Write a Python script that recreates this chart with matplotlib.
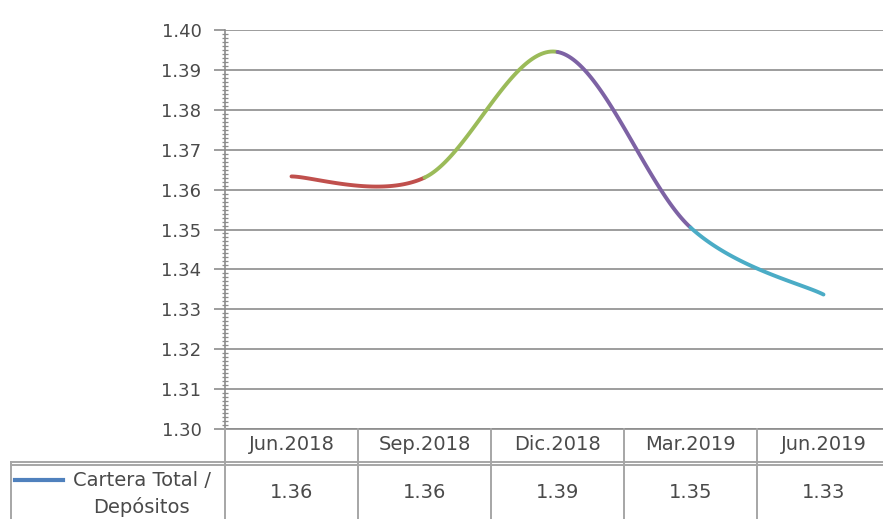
import numpy as np
import matplotlib
matplotlib.use("Agg")
import matplotlib.pyplot as plt
from matplotlib.ticker import MultipleLocator
from matplotlib.transforms import blended_transform_factory

plt.rcParams['font.family'] = ['DejaVu Sans']

categories = ["Jun.2018", "Sep.2018", "Dic.2018", "Mar.2019", "Jun.2019"]
values = [1.3633, 1.3630, 1.3945, 1.3505, 1.3337]
table_labels = ["1.36", "1.36", "1.39", "1.35", "1.33"]
series_name = ["Cartera Total /", "Depósitos"]
segment_colors = ["#C0504D", "#9BBB59", "#7D62A4", "#4BACC6"]
legend_color = "#4F81BD"
txt_color = "#4A4A4A"

W, H = 883, 519
fig = plt.figure(figsize=(W / 100, H / 100), dpi=100)
fig.patch.set_facecolor("white")

def fx(px):
    return px / W

def fy(py):
    return 1 - py / H

left, right, top, bottom = 225, 890, 30, 429
ax = fig.add_axes([fx(left), fy(bottom), fx(right - left), fy(top) - fy(bottom)])

n = len(values)
xs = np.arange(n, dtype=float)
ys = np.array(values)

# Excel-like smoothed line (Catmull-Rom Bezier), one colour per segment
t = np.linspace(0, 1, 60)
for i in range(n - 1):
    p0 = np.array([xs[i], ys[i]])
    p3 = np.array([xs[i + 1], ys[i + 1]])
    pm = np.array([xs[i - 1], ys[i - 1]]) if i > 0 else p0
    pp = np.array([xs[i + 2], ys[i + 2]]) if i + 2 < n else p3
    c1 = p0 + (p3 - pm) / 6
    c2 = p3 - (pp - p0) / 6
    pts = ((1 - t) ** 3)[:, None] * p0 + (3 * (1 - t) ** 2 * t)[:, None] * c1 \
        + (3 * (1 - t) * t ** 2)[:, None] * c2 + (t ** 3)[:, None] * p3
    ax.plot(pts[:, 0], pts[:, 1], color=segment_colors[i], lw=2.8,
            solid_capstyle="round", zorder=3)

ax.set_xlim(-0.5, n - 0.5)
ax.set_ylim(1.30, 1.40)
ax.yaxis.set_major_locator(MultipleLocator(0.01))
ax.yaxis.set_minor_locator(MultipleLocator(0.001))
ax.yaxis.set_major_formatter(matplotlib.ticker.FormatStrFormatter("%.2f"))
ax.grid(axis="y", which="major", color="#8C8C8C", lw=1.2)
ax.set_axisbelow(True)
ax.set_xticks([])
for s in ["top", "right"]:
    ax.spines[s].set_visible(False)
ax.spines["left"].set_color("#8C8C8C")
ax.spines["left"].set_linewidth(1.2)
ax.spines["bottom"].set_color("#8C8C8C")
ax.spines["bottom"].set_linewidth(1.2)
ax.tick_params(axis="y", which="major", direction="out", length=8, width=1.2,
               color="#8C8C8C", labelsize=13, labelcolor=txt_color, pad=9)
ax.tick_params(axis="y", which="minor", direction="inout", length=5, width=0.9,
               color="#8C8C8C")

# Data table under the plot
tr = blended_transform_factory(ax.transData, fig.transFigure)
line_kw = dict(color="#A6A6A6", lw=1.4, clip_on=False)
y_head_top = fy(429)
y_bottom = fy(530)
for i in range(n + 1):
    xb = i - 0.5
    fig.add_artist(plt.Line2D([xb, xb], [y_head_top, y_bottom], transform=tr, **line_kw))
fig.add_artist(plt.Line2D([fx(11), fx(W + 10)], [fy(462), fy(462)],
                          transform=fig.transFigure, **line_kw))
fig.add_artist(plt.Line2D([fx(11), fx(W + 10)], [fy(465), fy(465)],
                          transform=fig.transFigure, **line_kw))
fig.add_artist(plt.Line2D([fx(11), fx(11)], [fy(462), y_bottom],
                          transform=fig.transFigure, **line_kw))

for i, (c, v) in enumerate(zip(categories, table_labels)):
    fig.text(i, fy(445), c, transform=tr, ha="center", va="center",
             fontsize=14, color=txt_color)
    fig.text(i, fy(493), v, transform=tr, ha="center", va="center",
             fontsize=14, color=txt_color)

fig.add_artist(plt.Line2D([fx(15), fx(63)], [fy(480), fy(480)],
                          transform=fig.transFigure, color=legend_color, lw=3))
fig.text(fx(142), fy(480), series_name[0], ha="center", va="center",
         fontsize=14, color=txt_color)
fig.text(fx(141), fy(507), series_name[1], ha="center", va="center",
         fontsize=14, color=txt_color)

fig.savefig("out.png", dpi=100, facecolor="white")
